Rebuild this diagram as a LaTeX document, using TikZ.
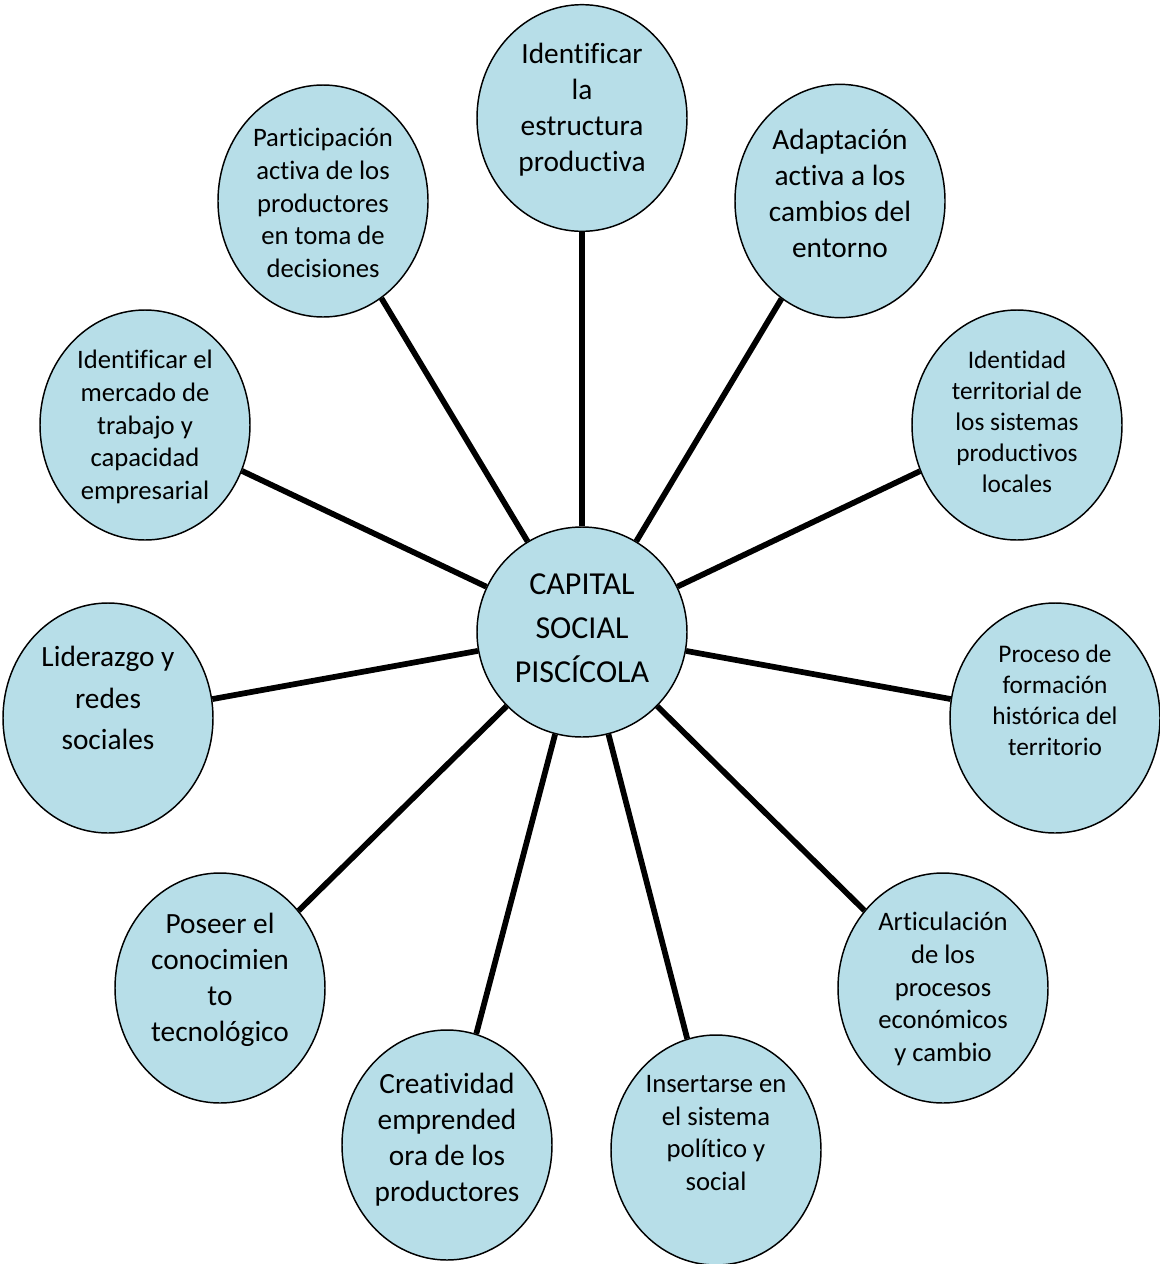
\documentclass[tikz,border=0pt]{standalone}
\usepackage{fontspec}
\setmainfont[Ligatures=NoCommon]{Carlito}
\usepackage{tikz}
\usetikzlibrary{shapes.geometric}
\definecolor{aquabox}{HTML}{B7DEE8}
\tikzset{
  burbuja/.style={
    ellipse, draw=black, line width=1.1pt, fill=aquabox,
    minimum width=157.5pt, minimum height=172.5pt, inner sep=0pt
  },
  texto/.style={align=center, font=\fontsize{22}{27}\selectfont},
  textochico/.style={align=center, font=\fontsize{20}{24.5}\selectfont},
  textomini/.style={align=center, font=\fontsize{19}{23.3}\selectfont},
  radio/.style={line width=4.3pt}
}
\begin{document}
\begin{tikzpicture}[x=0.75pt,y=-0.75pt]
\useasboundingbox (0,0) rectangle (1160,1264);
% bubbles
\node[burbuja, minimum width=157.5pt, minimum height=157.5pt] (capital) at (582,632) {};
\node[burbuja, minimum height=170pt] (estructura) at (582,118) {};
\node[burbuja, minimum height=175pt] (adaptacion) at (840,201) {};
\node[burbuja] (identidad) at (1017,425) {};
\node[burbuja] (proceso) at (1055,718) {};
\node[burbuja] (articulacion) at (943,988) {};
\node[burbuja] (insertarse) at (716,1150) {};
\node[burbuja] (creatividad) at (447,1145) {};
\node[burbuja] (poseer) at (220,988) {};
\node[burbuja] (liderazgo) at (108,718) {};
\node[burbuja] (mercado) at (145,425) {};
\node[burbuja, minimum height=174pt] (participacion) at (323,201) {};

% spokes
\foreach \n in {estructura,adaptacion,identidad,proceso,articulacion,insertarse,creatividad,poseer,liderazgo,mercado,participacion}
  \draw[radio] (capital) -- (\n);

% texts
\node[texto, font=\fontsize{24}{33}\selectfont] (tcapital) at (582,628) {CAPITAL\\SOCIAL\\PISCÍCOLA};
\node[texto] (testructura) at (582,110) {Identificar\\la\\estructura\\productiva};
\node[texto] (tadaptacion) at (840,193) {Adaptación\\activa a los\\cambios del\\entorno};
\node[textomini] (tidentidad) at (1017,422) {Identidad\\territorial de\\los sistemas\\productivos\\locales};
\node[textomini] (tproceso) at (1055,700) {Proceso de\\formación\\histórica del\\territorio};
\node[textochico] (tarticulacion) at (943,989) {Articulación\\de los\\procesos\\económicos\\y cambio};
\node[textochico] (tinsertarse) at (716,1133) {Insertarse en\\el sistema\\político y\\social};
\node[texto] (tcreatividad) at (447,1140) {Creatividad\\emprended\\ora de los\\productores};
\node[texto] (tposeer) at (220,980) {Poseer el\\conocimien\\to\\tecnológico};
\node[texto, font=\fontsize{22}{31}\selectfont] (tliderazgo) at (108,698) {Liderazgo y\\redes\\sociales};
\node[textochico] (tmercado) at (145,427) {Identificar el\\mercado de\\trabajo y\\capacidad\\empresarial};
\node[textochico] (tparticipacion) at (323,203) {Participación\\activa de los\\productores\\en toma de\\decisiones};
\end{tikzpicture}
\end{document}
